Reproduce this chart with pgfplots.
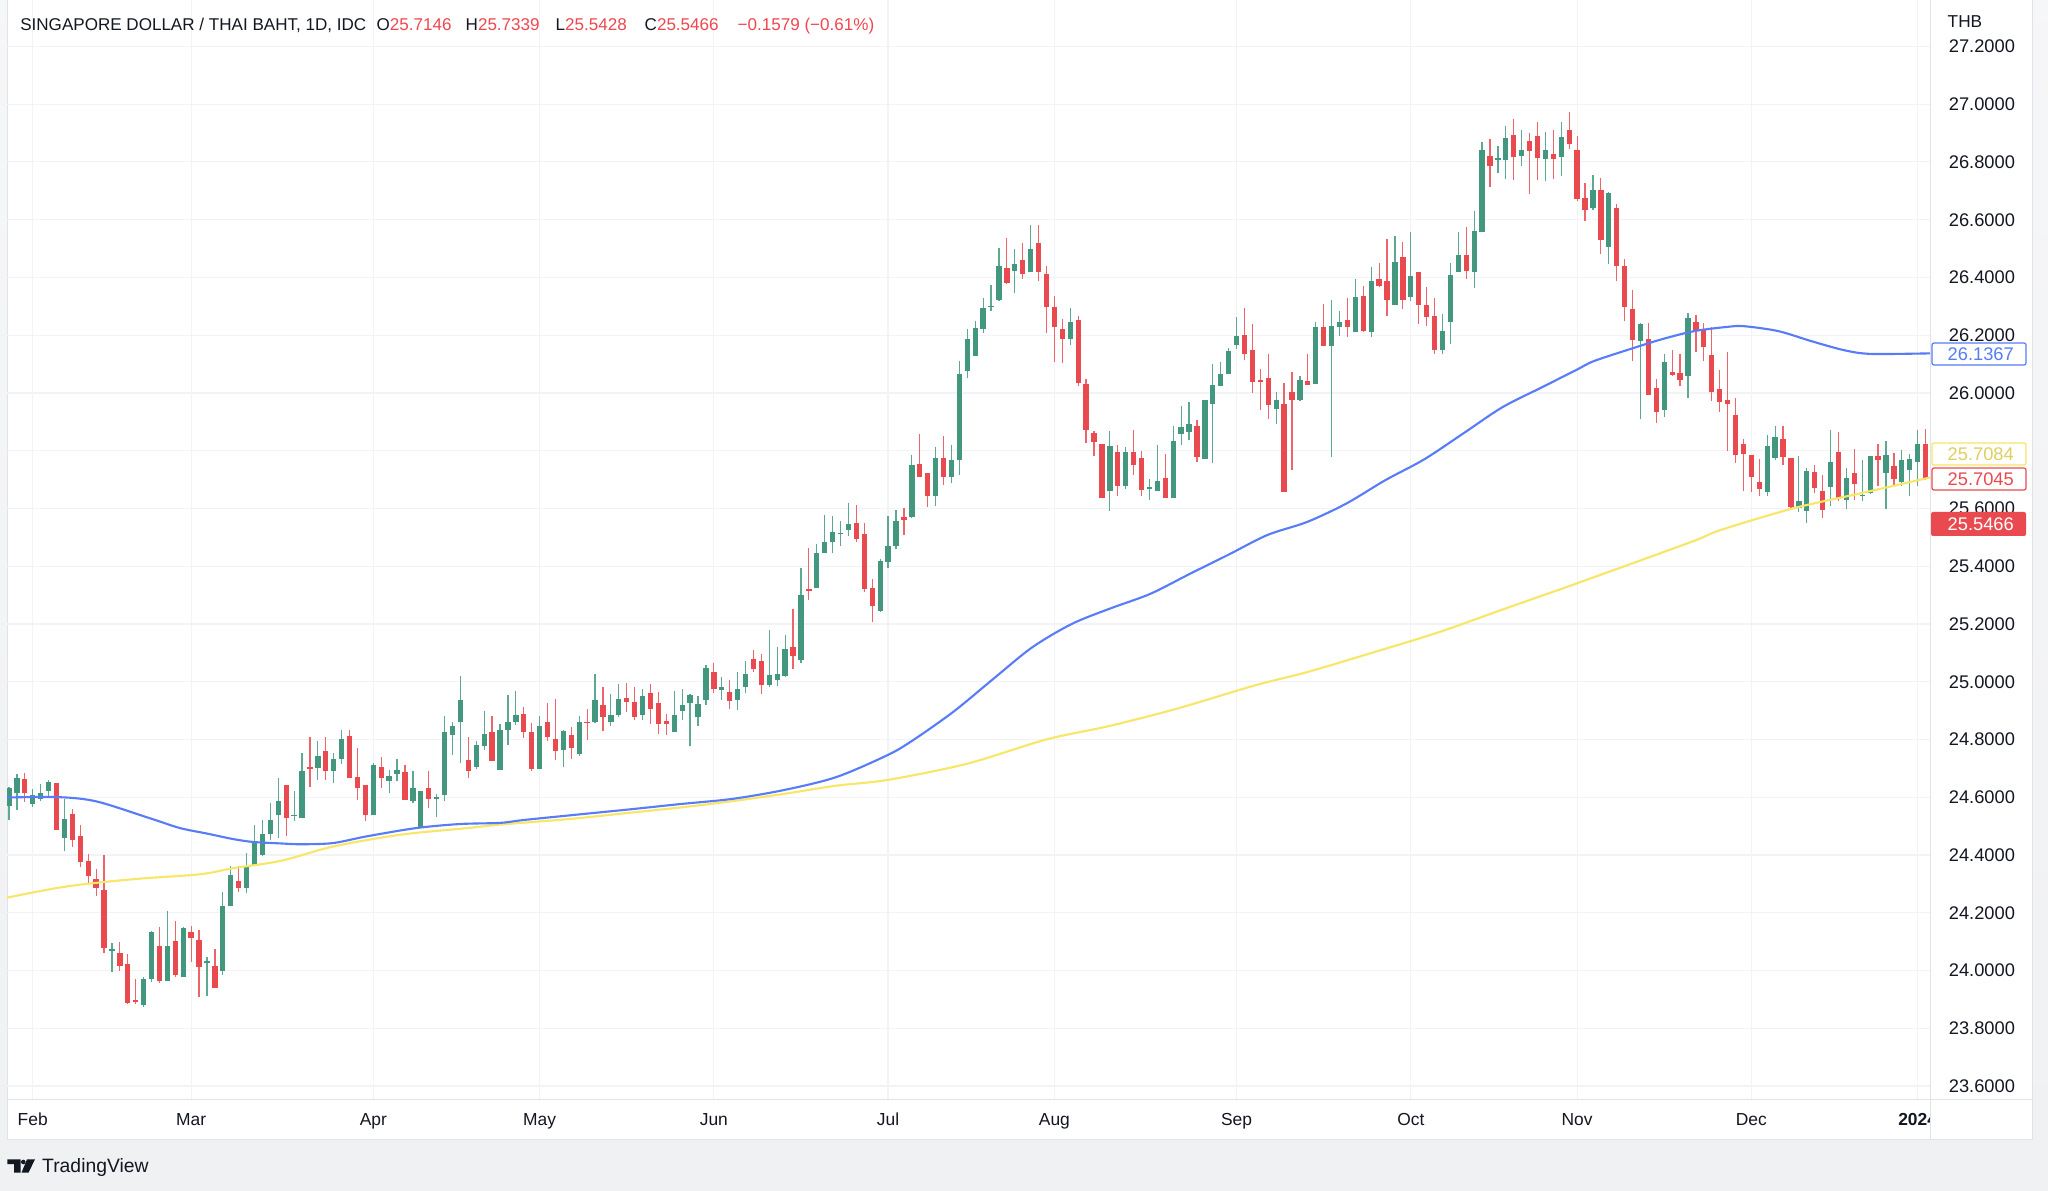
\documentclass[border=0pt]{standalone}
\usepackage{pgfplots}
\pgfplotsset{compat=1.18}
\usepackage{pgfplotstable}
\usepackage{fontspec}
\setmainfont{Liberation Sans}

\definecolor{txt}{RGB}{19,23,34}
\definecolor{up}{RGB}{66,151,126}
\definecolor{dn}{RGB}{232,74,80}
\definecolor{hdr}{RGB}{240,70,80}
\definecolor{ma1}{RGB}{88,124,247}
\definecolor{ma2}{RGB}{248,230,104}
\definecolor{gridc}{RGB}{242,243,246}
\definecolor{edge}{RGB}{224,227,235}
\definecolor{bg}{RGB}{240,241,243}

% daily candles, i = trading day from 1 Feb
\pgfplotstableread{
i o h l c
-3 24.571 24.635 24.520 24.631
-2 24.615 24.681 24.556 24.667
0 24.577 24.629 24.565 24.606
1 24.594 24.647 24.586 24.614
2 24.621 24.660 24.597 24.654
4 24.458 24.592 24.412 24.523
10 24.068 24.094 23.996 24.073
14 23.881 23.977 23.873 23.971
15 23.971 24.135 23.960 24.132
17 23.965 24.205 23.965 24.083
19 23.979 24.150 23.979 24.146
22 24.026 24.047 23.911 24.033
24 23.999 24.271 23.983 24.222
25 24.222 24.360 24.222 24.329
27 24.285 24.406 24.268 24.360
28 24.360 24.504 24.360 24.444
29 24.400 24.521 24.398 24.473
30 24.472 24.579 24.452 24.522
31 24.537 24.668 24.458 24.588
33 24.535 24.622 24.518 24.539
34 24.527 24.753 24.527 24.691
36 24.701 24.793 24.660 24.743
38 24.691 24.753 24.649 24.732
39 24.732 24.831 24.716 24.801
43 24.537 24.718 24.537 24.712
45 24.657 24.695 24.614 24.675
46 24.680 24.732 24.657 24.695
48 24.587 24.689 24.579 24.631
49 24.495 24.622 24.495 24.622
51 24.595 24.610 24.531 24.599
52 24.606 24.882 24.587 24.824
53 24.816 24.862 24.747 24.845
54 24.862 25.021 24.718 24.935
56 24.704 24.793 24.698 24.781
57 24.776 24.897 24.764 24.820
59 24.695 24.853 24.695 24.831
60 24.831 24.955 24.781 24.860
61 24.859 24.966 24.851 24.885
64 24.697 24.880 24.697 24.848
67 24.762 24.834 24.703 24.828
69 24.750 24.880 24.743 24.860
71 24.859 25.027 24.856 24.935
73 24.859 24.957 24.847 24.885
74 24.885 24.991 24.879 24.940
77 24.885 24.974 24.868 24.949
81 24.824 24.966 24.824 24.883
82 24.900 24.974 24.868 24.920
83 24.926 24.958 24.776 24.955
84 24.876 24.949 24.848 24.923
85 24.937 25.058 24.918 25.049
87 24.972 25.015 24.937 24.983
89 24.937 25.035 24.903 24.975
90 24.981 25.072 24.960 25.026
93 24.989 25.178 24.981 25.024
94 25.007 25.119 24.986 25.027
95 25.018 25.162 25.016 25.113
97 25.076 25.394 25.064 25.299
99 25.324 25.478 25.324 25.446
100 25.446 25.578 25.446 25.483
101 25.483 25.573 25.446 25.518
102 25.510 25.555 25.471 25.515
103 25.524 25.619 25.503 25.546
107 25.244 25.425 25.240 25.417
108 25.413 25.573 25.394 25.469
109 25.469 25.596 25.460 25.558
111 25.569 25.786 25.567 25.749
114 25.642 25.812 25.607 25.775
116 25.708 25.821 25.688 25.767
117 25.766 26.112 25.714 26.064
118 26.075 26.220 26.052 26.187
119 26.129 26.248 26.129 26.225
120 26.223 26.327 26.208 26.295
121 26.298 26.372 26.283 26.302
122 26.323 26.502 26.318 26.441
124 26.422 26.497 26.347 26.447
126 26.418 26.580 26.418 26.500
131 26.187 26.295 26.167 26.245
136 25.659 25.869 25.592 25.815
138 25.679 25.813 25.668 25.796
141 25.668 25.702 25.630 25.673
142 25.659 25.818 25.659 25.696
144 25.635 25.885 25.635 25.835
145 25.858 25.956 25.821 25.881
146 25.864 25.968 25.838 25.893
148 25.772 25.975 25.772 25.975
149 25.962 26.100 25.757 26.029
150 26.023 26.106 26.023 26.066
151 26.067 26.156 26.067 26.144
152 26.167 26.263 26.152 26.196
157 25.945 26.002 25.893 25.975
160 25.975 26.060 25.971 26.044
162 26.032 26.245 26.032 26.229
164 26.164 26.323 25.778 26.231
165 26.229 26.285 26.196 26.246
167 26.211 26.395 26.211 26.331
169 26.211 26.435 26.193 26.387
172 26.303 26.543 26.303 26.454
174 26.331 26.557 26.318 26.404
178 26.147 26.272 26.136 26.216
179 26.246 26.450 26.171 26.408
180 26.418 26.557 26.418 26.476
182 26.419 26.630 26.362 26.560
183 26.557 26.870 26.557 26.840
185 26.806 26.855 26.760 26.812
186 26.806 26.924 26.742 26.881
188 26.822 26.912 26.785 26.841
191 26.809 26.904 26.733 26.841
193 26.817 26.939 26.751 26.886
197 26.639 26.753 26.632 26.702
199 26.506 26.696 26.447 26.691
203 26.179 26.242 25.911 26.240
206 25.940 26.135 25.918 26.106
209 26.058 26.277 25.983 26.260
219 25.656 25.853 25.642 25.815
220 25.775 25.884 25.769 25.846
223 25.601 25.781 25.588 25.627
224 25.592 25.740 25.550 25.731
227 25.673 25.873 25.607 25.761
229 25.630 25.740 25.599 25.705
231 25.642 25.769 25.625 25.647
232 25.653 25.781 25.651 25.781
234 25.723 25.833 25.599 25.786
236 25.690 25.801 25.677 25.767
237 25.734 25.789 25.642 25.771
238 25.760 25.873 25.677 25.824
}\upcandles

\pgfplotstableread{
i o h l c
-1 24.664 24.684 24.583 24.614
3 24.648 24.650 24.485 24.488
5 24.542 24.560 24.427 24.452
6 24.464 24.502 24.357 24.377
7 24.379 24.403 24.303 24.326
8 24.317 24.350 24.259 24.286
9 24.279 24.400 24.061 24.077
11 24.060 24.100 23.997 24.015
12 24.023 24.058 23.884 23.886
13 23.897 23.972 23.884 23.890
16 24.083 24.152 23.958 23.962
18 24.103 24.170 23.979 23.985
20 24.132 24.155 24.030 24.112
21 24.105 24.140 23.909 24.012
23 24.015 24.073 23.939 23.940
26 24.309 24.360 24.271 24.286
32 24.641 24.641 24.464 24.527
35 24.706 24.810 24.637 24.699
37 24.761 24.807 24.660 24.691
40 24.813 24.831 24.666 24.666
41 24.669 24.770 24.589 24.631
42 24.641 24.641 24.519 24.537
44 24.706 24.738 24.631 24.668
47 24.686 24.712 24.591 24.591
50 24.631 24.689 24.562 24.593
55 24.729 24.810 24.668 24.692
58 24.825 24.882 24.726 24.726
62 24.888 24.914 24.805 24.824
63 24.825 24.857 24.692 24.697
65 24.860 24.926 24.793 24.808
66 24.801 24.941 24.729 24.761
68 24.814 24.843 24.732 24.772
70 24.861 24.906 24.799 24.856
72 24.920 24.980 24.830 24.876
75 24.945 24.997 24.895 24.929
76 24.929 24.983 24.868 24.879
78 24.960 24.991 24.853 24.906
79 24.926 24.963 24.818 24.853
80 24.863 24.888 24.816 24.853
86 25.035 25.064 24.960 24.974
88 24.963 25.006 24.905 24.934
91 25.079 25.108 25.033 25.045
92 25.070 25.097 24.958 24.989
96 25.120 25.251 25.043 25.090
98 25.322 25.463 25.284 25.315
104 25.549 25.613 25.483 25.494
105 25.513 25.550 25.309 25.321
106 25.325 25.356 25.205 25.263
110 25.569 25.600 25.509 25.561
112 25.755 25.859 25.708 25.708
113 25.723 25.723 25.605 25.642
115 25.775 25.850 25.682 25.708
123 26.431 26.535 26.378 26.381
125 26.460 26.520 26.395 26.412
127 26.520 26.583 26.389 26.418
128 26.412 26.439 26.208 26.297
129 26.297 26.337 26.107 26.228
130 26.222 26.256 26.102 26.187
132 26.251 26.268 26.025 26.035
133 26.032 26.048 25.827 25.873
134 25.861 25.867 25.780 25.829
135 25.824 25.824 25.635 25.635
137 25.796 25.818 25.642 25.677
139 25.796 25.873 25.717 25.750
140 25.775 25.798 25.644 25.665
143 25.705 25.789 25.635 25.635
147 25.887 25.905 25.761 25.778
153 26.202 26.294 26.115 26.136
154 26.150 26.237 26.000 26.038
155 26.044 26.084 25.942 26.039
156 26.050 26.135 25.908 25.957
158 25.960 26.035 25.656 25.656
159 26.004 26.073 25.734 25.974
161 26.040 26.133 26.029 26.029
163 26.229 26.309 26.164 26.164
166 26.254 26.329 26.193 26.228
168 26.337 26.370 26.210 26.214
170 26.395 26.450 26.367 26.370
171 26.387 26.534 26.268 26.323
173 26.470 26.523 26.289 26.320
175 26.419 26.419 26.239 26.303
176 26.304 26.366 26.233 26.262
177 26.266 26.327 26.133 26.147
181 26.477 26.574 26.395 26.422
184 26.822 26.880 26.714 26.785
187 26.892 26.949 26.736 26.817
189 26.872 26.901 26.689 26.837
190 26.889 26.939 26.737 26.812
192 26.829 26.910 26.742 26.809
194 26.910 26.974 26.845 26.863
195 26.841 26.891 26.666 26.670
196 26.676 26.728 26.597 26.632
198 26.702 26.745 26.482 26.528
200 26.641 26.653 26.387 26.439
201 26.441 26.462 26.248 26.298
202 26.291 26.358 26.110 26.182
204 26.185 26.242 25.994 25.994
205 26.017 26.048 25.896 25.933
207 26.073 26.150 26.058 26.063
208 26.069 26.135 26.023 26.046
210 26.246 26.271 26.142 26.214
211 26.219 26.242 26.110 26.158
212 26.130 26.228 25.971 26.002
213 26.014 26.081 25.934 25.969
214 25.977 26.142 25.798 25.960
215 25.925 25.983 25.757 25.784
216 25.824 25.840 25.662 25.790
217 25.784 25.784 25.656 25.708
218 25.690 25.771 25.642 25.667
221 25.841 25.884 25.749 25.777
222 25.775 25.775 25.601 25.605
225 25.725 25.752 25.653 25.669
226 25.662 25.715 25.567 25.596
228 25.794 25.864 25.627 25.633
230 25.723 25.806 25.628 25.686
233 25.781 25.823 25.677 25.769
235 25.746 25.792 25.677 25.702
239 25.824 25.876 25.700 25.7045
}\dncandles

% moving averages
\pgfplotstableread{
i v
-3.3 24.599
3.4 24.600
8.1 24.585
14.8 24.527
18.6 24.493
22.0 24.474
25.3 24.455
27.8 24.445
31.2 24.440
33.8 24.437
37.9 24.441
42.1 24.464
48.4 24.493
53.9 24.507
59.0 24.511
62.0 24.521
68.5 24.539
75.1 24.557
81.7 24.576
88.3 24.594
94.9 24.625
101.5 24.670
108.1 24.748
111.4 24.802
116.3 24.897
121.3 25.010
126.2 25.119
131.2 25.200
136.1 25.254
141.1 25.304
146.0 25.372
151.0 25.440
155.9 25.508
160.9 25.553
165.8 25.616
170.8 25.698
175.7 25.770
180.7 25.861
185.6 25.951
190.6 26.020
195.0 26.081
197.1 26.110
201.5 26.150
205.6 26.185
209.8 26.214
214.1 26.229
216.1 26.231
220.4 26.214
224.6 26.179
228.7 26.148
232.1 26.135
239.7 26.137
}\maA

\pgfplotstableread{
i v
-3.3 24.252
4.3 24.291
12.7 24.316
21.1 24.333
25.3 24.354
31.4 24.380
37.9 24.429
46.4 24.470
54.9 24.493
59.0 24.505
68.0 24.525
75.0 24.545
82.0 24.565
88.0 24.585
95.0 24.612
101.5 24.640
108.0 24.660
118.0 24.716
128.0 24.800
136.0 24.847
144.4 24.906
154.3 24.987
160.9 25.033
169.1 25.100
177.4 25.170
185.6 25.250
193.9 25.330
202.0 25.410
210.0 25.490
213.2 25.526
222.4 25.601
230.9 25.653
239.7 25.708
}\maB

\begin{document}
\begin{tikzpicture}[x=0.01cm,y=0.01cm]
\useasboundingbox (0,0) rectangle (2048,1190);
\shade[top color=bg!60!white, bottom color=bg] (0,0) rectangle (2048,1190);
\fill[white] (7,51) rectangle (2032,1190);
\draw[edge, line width=0.01cm] (7,1190) -- (7,51) -- (2032,51) -- (2032,1190);

\begin{axis}[
  at={(0.07cm,0.91cm)}, anchor=south west,
  scale only axis, width=19.23cm, height=10.99cm,
  xmin=-3.25, xmax=239.7, ymin=23.555, ymax=27.363,
  axis line style={draw=none},
  tick style={draw=none},
  grid=major,
  major grid style={gridc, line width=0.012cm},
  xtick={0,20,43,64,86,108,129,152,174,195,217,238},
  xticklabels={Feb,Mar,Apr,May,Jun,Jul,Aug,Sep,Oct,Nov,Dec,{\bfseries 2024}},
  xticklabel style={anchor=base, inner sep=0pt, yshift=-0.27cm,
    font=\fontsize{4.95}{6}\selectfont, text=txt},
  ytick={23.6,23.8,24.0,24.2,24.4,24.6,24.8,25.0,25.2,25.4,25.6,25.8,26.0,26.2,26.4,26.6,26.8,27.0,27.2},
  yticklabel pos=right,
  yticklabel style={anchor=base west, inner sep=0pt, xshift=0.17cm, yshift=-0.065cm,
    font=\fontsize{5.2}{6}\selectfont, text=txt},
  /pgf/number format/.cd, fixed, fixed zerofill, precision=4, assume math mode=true,
]
% wicks
\addplot[draw=none, mark=none, forget plot,
  error bars/.cd, y dir=plus, y explicit, error mark=none,
  error bar style={draw=up!85!white, line width=0.012cm}]
  table[x=i, y=l, y error plus expr=\thisrow{h}-\thisrow{l}] {\upcandles};
\addplot[draw=none, mark=none, forget plot,
  error bars/.cd, y dir=plus, y explicit, error mark=none,
  error bar style={draw=dn!85!white, line width=0.012cm}]
  table[x=i, y=l, y error plus expr=\thisrow{h}-\thisrow{l}] {\dncandles};
% bodies
\addplot[draw=none, mark=none, forget plot,
  error bars/.cd, y dir=plus, y explicit, error mark=none,
  error bar style={draw=up, line width=0.053cm}]
  table[x=i, y=o, y error plus expr=\thisrow{c}-\thisrow{o}] {\upcandles};
\addplot[draw=none, mark=none, forget plot,
  error bars/.cd, y dir=plus, y explicit, error mark=none,
  error bar style={draw=dn, line width=0.053cm}]
  table[x=i, y=c, y error plus expr=\thisrow{o}-\thisrow{c}] {\dncandles};
% moving averages
\addplot[ma2, line width=0.6pt, smooth, mark=none] table[x=i, y=v] {\maB};
\addplot[ma1, line width=0.6pt, smooth, mark=none] table[x=i, y=v] {\maA};
\end{axis}

\draw[edge, line width=0.01cm] (1930,51) -- (1930,1190);
\draw[edge, line width=0.01cm] (7,91) -- (2032,91);
\fill[white] (1931,52) rectangle (2031,90.5);

% header
\begin{scope}[every node/.style={anchor=base west, inner sep=0pt, font=\fontsize{4.85}{6}\selectfont, text=txt}]
\node at (19.6,1159) {SINGAPORE DOLLAR / THAI BAHT, 1D, IDC};
\node at (376,1159) {O\textcolor{hdr}{25.7146}};
\node at (465,1159) {H\textcolor{hdr}{25.7339}};
\node at (555,1159) {L\textcolor{hdr}{25.5428}};
\node at (644,1159) {C\textcolor{hdr}{25.5466}};
\node at (737,1159) {\textcolor{hdr}{−0.1579 (−0.61\%)}};
\node[font=\fontsize{4.9}{6}\selectfont] at (1947,1162) {THB};
\end{scope}

% last value labels
\begin{scope}[every node/.style={anchor=west, inner sep=0pt, font=\fontsize{5.2}{6}\selectfont}]
\draw[ma1, fill=white, rounded corners=0.02cm, line width=0.012cm] (1932,825) rectangle (2026,847);
\node[text=ma1] at (1947,836) {26.1367};
\draw[ma2, fill=white, rounded corners=0.02cm, line width=0.012cm] (1932,725) rectangle (2026,747);
\node[text=ma2!90!black] at (1947,736) {25.7084};
\draw[dn, fill=white, rounded corners=0.02cm, line width=0.012cm] (1932,700) rectangle (2026,722);
\node[text=dn] at (1947,711) {25.7045};
\fill[dn, rounded corners=0.02cm] (1931,654) rectangle (2026,678);
\node[text=white] at (1947,666) {25.5466};
\end{scope}

% footer
\fill[txt] (7.3,30.7) rectangle (20.7,26) (14,26) rectangle (20.7,17.3);
\fill[txt] (23.3,28) circle (2.3);
\fill[txt] (27,30.7) -- (35,30.7) -- (28.5,17.3) -- (21.5,17.3) -- cycle;
\node[anchor=west, inner sep=0pt, font=\fontsize{5.5}{6}\selectfont, text=txt] at (41.5,23) {TradingView};
\end{tikzpicture}
\end{document}
